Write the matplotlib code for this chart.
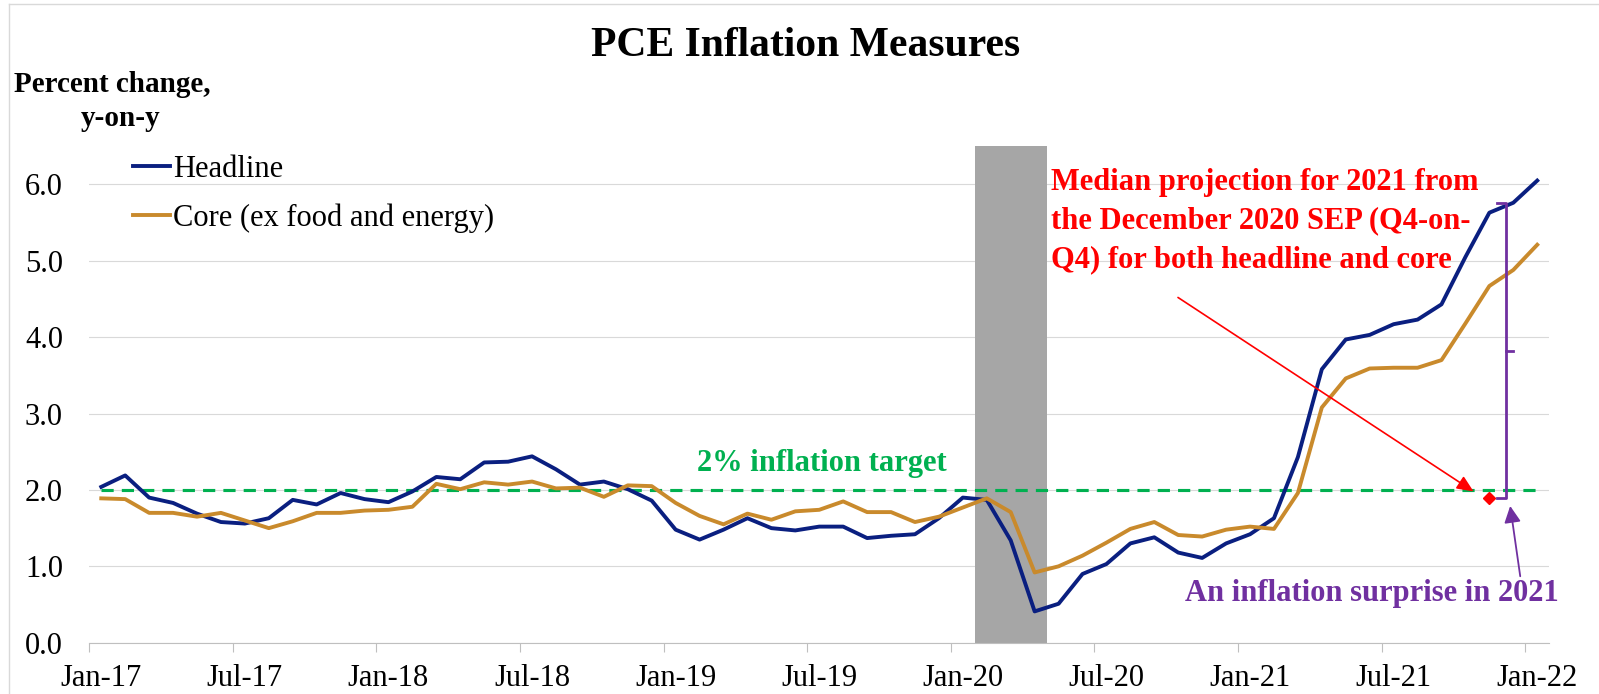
import numpy as np
import pandas as pd
import matplotlib
matplotlib.use('Agg')
from matplotlib import pyplot as plt
from matplotlib.lines import Line2D

plt.rcParams['font.family'] = ['Liberation Serif', 'DejaVu Serif']

# monthly data, Jan-17 .. Jan-22 (percent change, y-on-y)
months = pd.date_range('2017-01-01', '2022-01-01', freq='MS')

headline = [2.04, 2.19, 1.90, 1.83, 1.69, 1.58, 1.56, 1.63, 1.87, 1.81, 1.96, 1.88,
            1.84, 1.98, 2.17, 2.14, 2.36, 2.37, 2.44, 2.27, 2.07, 2.11, 2.01, 1.86,
            1.48, 1.35, 1.48, 1.63, 1.50, 1.47, 1.52, 1.52, 1.37, 1.40, 1.42, 1.63,
            1.90, 1.87, 1.34, 0.41, 0.51, 0.90, 1.03, 1.30, 1.38, 1.18, 1.11, 1.30,
            1.42, 1.63, 2.43, 3.58, 3.97, 4.03, 4.17, 4.23, 4.43, 5.05, 5.63, 5.76,
            6.05]

core = [1.89, 1.88, 1.70, 1.70, 1.65, 1.70, 1.60, 1.50, 1.59, 1.70, 1.70, 1.73,
        1.74, 1.78, 2.08, 2.01, 2.10, 2.07, 2.11, 2.02, 2.03, 1.91, 2.06, 2.05,
        1.83, 1.66, 1.55, 1.69, 1.61, 1.72, 1.74, 1.85, 1.71, 1.71, 1.58, 1.65,
        1.77, 1.89, 1.71, 0.92, 1.00, 1.14, 1.31, 1.49, 1.58, 1.41, 1.39, 1.48,
        1.52, 1.49, 1.96, 3.08, 3.46, 3.59, 3.60, 3.60, 3.70, 4.18, 4.67, 4.88,
        5.21]

target = 2.0
recession_months = ['2020-02', '2020-03', '2020-04']
recession_height = [6.5, 6.5, 6.5]

# Dec 2020 SEP median projection for 2021
projection_month = '2021-11'
projection_value = 1.89

tick_labels = ['Jan-17', 'Jul-17', 'Jan-18', 'Jul-18', 'Jan-19', 'Jul-19',
               'Jan-20', 'Jul-20', 'Jan-21', 'Jul-21', 'Jan-22']

navy = '#0A1F80'
gold = '#C98A2C'
green = '#00B050'
red = '#FF0000'
purple = '#7030A0'

mlist = [m.strftime('%Y-%m') for m in months]
x = np.arange(len(months)) + 0.5
rec_x = [mlist.index(m) + 0.5 for m in recession_months]
proj_x = mlist.index(projection_month) + 0.5

fig = plt.figure(figsize=(15.99, 6.94), dpi=100)
ax = fig.add_axes([0.05585, 0.0739, 0.913, 0.7154])

ax.bar(rec_x, recession_height, width=1.0, color='#A6A6A6', zorder=2)
ax.hlines(target, x[0], x[-1], colors=green, lw=2.25, linestyles=(0, (3.9, 2.6)), zorder=3)
ax.plot(x, headline, color=navy, lw=2.8, label='Headline', zorder=4)
ax.plot(x, core, color=gold, lw=2.8, label='Core (ex food and energy)', zorder=4)
ax.plot(proj_x, projection_value, marker='D', color=red, ms=6.5, ls='none', zorder=5)

ax.set_xlim(0, 61)
ax.set_ylim(0, 6.5)
ax.set_yticks(np.arange(0, 7, 1.0))
ax.set_yticklabels(['%.1f' % v for v in np.arange(0, 7, 1.0)])
ax.grid(axis='y', color='#D9D9D9', lw=0.8, zorder=0)
ax.set_axisbelow(True)

ax.set_xticks(np.arange(0, 61, 6))
ax.set_xticklabels([])
ax.set_xticks(np.arange(0, 61, 6) + 0.5, minor=True)
ax.set_xticklabels(tick_labels, minor=True)
ax.tick_params(axis='x', which='major', length=6.5, width=0.8, color='#BFBFBF', direction='out')
ax.tick_params(axis='x', which='minor', length=0, pad=15, labelsize=22)
ax.tick_params(axis='y', length=0, pad=19, labelsize=22)

for s in ['left', 'top', 'right']:
    ax.spines[s].set_visible(False)
ax.spines['bottom'].set_color('#BFBFBF')
ax.spines['bottom'].set_linewidth(0.8)

ax.legend(loc='upper left', bbox_to_anchor=(133 / 1599, 1 - 155 / 694),
          bbox_transform=fig.transFigure, frameon=False, fontsize=22,
          handlelength=1.2, handletextpad=0.1, labelspacing=0.64,
          borderpad=0, borderaxespad=0)

fig.text(0.504, 1 - 46 / 694, 'PCE Inflation Measures', ha='center', va='center',
         fontsize=30, fontweight='bold')
fig.text(14.3 / 1599, 1 - 84 / 694, 'Percent change,', ha='left', va='center',
         fontsize=21, fontweight='bold')
fig.text(121 / 1599, 1 - 118 / 694, 'y-on-y', ha='center', va='center',
         fontsize=21, fontweight='bold')

ax.text(30.6, 2.34, '2% inflation target', ha='center', va='center',
        fontsize=22, fontweight='bold', color=green)
ax.text(40.2, 5.52, 'Median projection for 2021 from\nthe December 2020 SEP (Q4-on-\nQ4) for both headline and core',
        ha='left', va='center', fontsize=22, fontweight='bold', color=red,
        linespacing=1.42, zorder=6)
ax.text(53.6, 0.65, 'An inflation surprise in 2021', ha='center', va='center',
        fontsize=22, fontweight='bold', color=purple)

ax.annotate('', xy=(57.84, 1.98), xytext=(45.49, 4.52),
            arrowprops=dict(arrowstyle='-|>,head_length=0.5,head_width=0.22',
                            mutation_scale=20, color=red, lw=1.2,
                            shrinkA=0, shrinkB=0), zorder=6)

# bracket: from the projection up to the Dec-21 headline reading
bx = 59.2
top = headline[mlist.index('2021-12')]
ax.plot([bx - 0.36, bx, bx, bx - 0.36], [top, top, projection_value, projection_value],
        color=purple, lw=2.0, zorder=6)
ax.plot([bx, bx + 0.28], [(top + projection_value) / 2] * 2, color=purple, lw=2.0, zorder=6)
ax.annotate('', xy=(59.37, 1.79), xytext=(59.79, 0.87),
            arrowprops=dict(arrowstyle='-|>,head_length=0.5,head_width=0.25',
                            mutation_scale=20, color=purple, lw=1.3,
                            shrinkA=0, shrinkB=0), zorder=6)

# chart-area border
fig.add_artist(Line2D([9 / 1599, 9 / 1599], [0, 1 - 4 / 694], color='#D9D9D9', lw=1))
fig.add_artist(Line2D([9 / 1599, 1], [1 - 4 / 694, 1 - 4 / 694], color='#D9D9D9', lw=1))

plt.savefig('out.png', dpi=100)
